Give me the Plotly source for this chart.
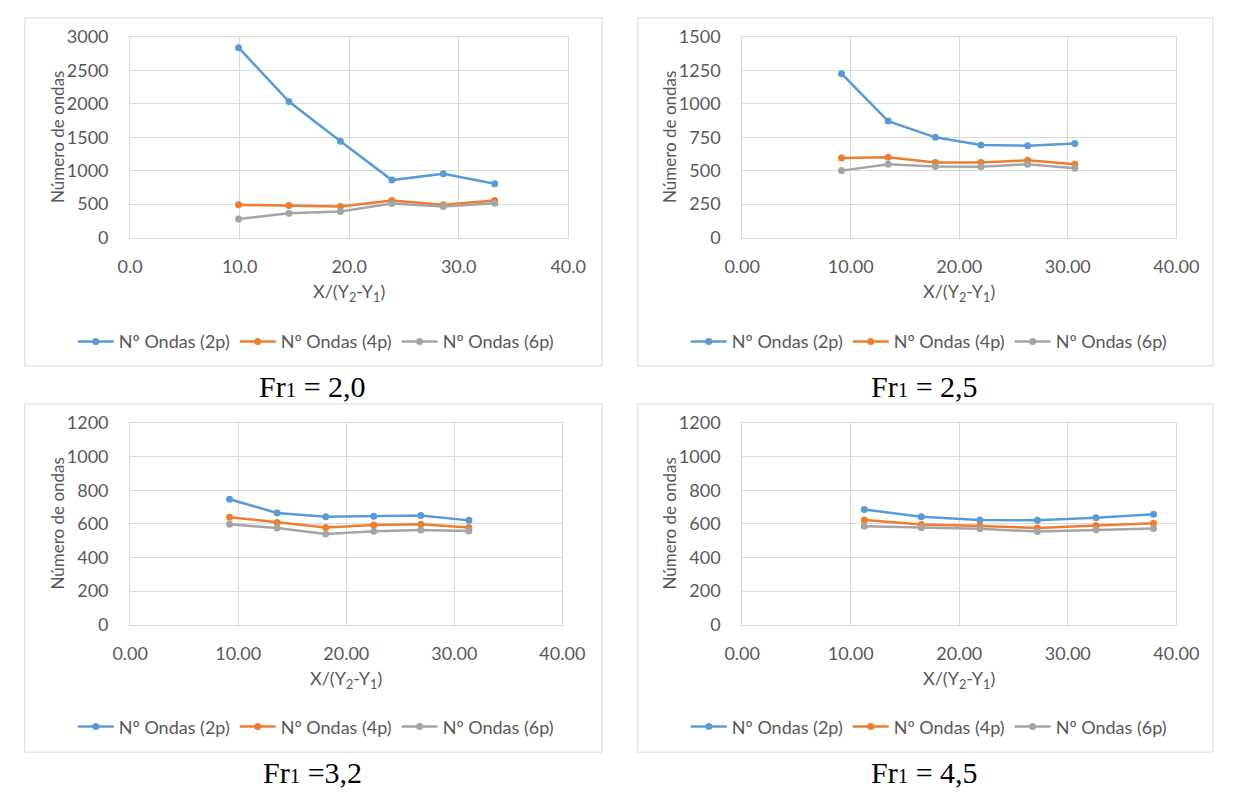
import plotly.graph_objects as go

W, H = 1238, 801

# Series labels and colours
series_names = ["Nº Ondas (2p)", "Nº Ondas (4p)", "Nº Ondas (6p)"]
series_colors = ["#5B9BD5", "#ED7D31", "#A5A5A5"]

# Fr1 = 2,0
x_fr20 = [9.9, 14.5, 19.2, 23.9, 28.6, 33.3]
ondas2p_fr20 = [2840, 2035, 1440, 860, 955, 805]
ondas4p_fr20 = [490, 480, 465, 555, 490, 555]
ondas6p_fr20 = [280, 365, 390, 510, 465, 515]

# Fr1 = 2,5
x_fr25 = [9.15, 13.45, 17.8, 22.0, 26.3, 30.65]
ondas2p_fr25 = [1226, 871, 750, 692, 687, 704]
ondas4p_fr25 = [595, 600, 561, 561, 578, 549]
ondas6p_fr25 = [501, 549, 532, 530, 549, 518]

# Fr1 = 3,2
x_fr32 = [9.2, 13.6, 18.1, 22.55, 26.9, 31.35]
ondas2p_fr32 = [747, 665, 642, 646, 650, 621]
ondas4p_fr32 = [640, 608, 579, 594, 598, 579]
ondas6p_fr32 = [598, 575, 540, 556, 563, 558]

# Fr1 = 4,5
x_fr45 = [11.25, 16.5, 21.9, 27.2, 32.6, 37.9]
ondas2p_fr45 = [685, 642, 623, 621, 637, 658]
ondas4p_fr45 = [623, 596, 588, 575, 590, 604]
ondas6p_fr45 = [586, 577, 571, 554, 565, 573]

captions = ["Fr<span style='font-size:21px'>1</span> = 2,0",
            "Fr<span style='font-size:21px'>1</span> = 2,5",
            "Fr<span style='font-size:21px'>1</span> =3,2",
            "Fr<span style='font-size:21px'>1</span> = 4,5"]

y_max = [3000, 1500, 1200, 1200]
y_step = [500, 250, 200, 200]
x_fmt = [".1f", ".2f", ".2f", ".2f"]

panels = [
    (x_fr20, [ondas2p_fr20, ondas4p_fr20, ondas6p_fr20]),
    (x_fr25, [ondas2p_fr25, ondas4p_fr25, ondas6p_fr25]),
    (x_fr32, [ondas2p_fr32, ondas4p_fr32, ondas6p_fr32]),
    (x_fr45, [ondas2p_fr45, ondas4p_fr45, ondas6p_fr45]),
]

# Pixel layout of each panel: plot area (left, right, top, bottom), chart box, legend centre, caption centre
plot_px = [(116, 569, 25.7, 232), (749, 1198, 25.7, 232),
           (116, 563, 422.7, 630), (749, 1198, 422.7, 630)]
box_px = [(7, 604, 6, 364), (641, 1236, 6, 364),
          (7, 604, 403, 761), (641, 1236, 403, 761)]
legend_px = [(308, 339), (942, 339), (308, 735), (942, 735)]
caption_px = [(305, 385), (938, 385), (305, 782), (938, 782)]

FONT = "Lato"
TXT = "#595959"
GRID = "#D9D9D9"
TICK_SIZE = 18


def fx(px):
    return px / W


def fy(py):
    return 1 - py / H


fig = go.Figure()
layout = dict(
    width=W, height=H,
    margin=dict(l=0, r=0, t=0, b=0),
    paper_bgcolor="white", plot_bgcolor="white",
    font=dict(family=FONT, color=TXT, size=TICK_SIZE),
    shapes=[], annotations=[],
)

for i, (xs, ys_list) in enumerate(panels):
    n = i + 1
    xa = "xaxis" if n == 1 else f"xaxis{n}"
    ya = "yaxis" if n == 1 else f"yaxis{n}"
    xr = "x" if n == 1 else f"x{n}"
    yr = "y" if n == 1 else f"y{n}"
    lg = "legend" if n == 1 else f"legend{n}"
    l, r, t, b = plot_px[i]

    for name, color, ys in zip(series_names, series_colors, ys_list):
        fig.add_trace(go.Scatter(
            x=xs, y=ys, name=name, mode="lines+markers",
            line=dict(color=color, width=2.5),
            marker=dict(color=color, size=7),
            xaxis=xr, yaxis=yr, legend=lg,
        ))

    layout[xa] = dict(
        domain=[fx(l), fx(r)], anchor=yr, range=[0, 40], dtick=10, tick0=0,
        tickformat=x_fmt[i], showgrid=True, gridcolor=GRID, gridwidth=1,
        showline=True, linecolor=GRID, linewidth=1, mirror=True,
        zeroline=False, ticks="outside", ticklen=13, tickcolor="rgba(0,0,0,0)",
        tickfont=dict(family=FONT, size=TICK_SIZE, color=TXT), fixedrange=True,
    )
    layout[ya] = dict(
        domain=[fy(b), fy(t)], anchor=xr, range=[0, y_max[i]], dtick=y_step[i], tick0=0,
        showgrid=True, gridcolor=GRID, gridwidth=1,
        showline=True, linecolor=GRID, linewidth=1, mirror=True,
        zeroline=False, ticks="outside", ticklen=17, tickcolor="rgba(0,0,0,0)",
        tickfont=dict(family=FONT, size=TICK_SIZE, color=TXT), fixedrange=True,
    )

    lx, ly = legend_px[i]
    layout[lg] = dict(
        orientation="h", x=fx(lx), y=fy(ly), xanchor="center", yanchor="middle",
        xref="paper", yref="paper", bgcolor="rgba(0,0,0,0)",
        font=dict(family=FONT, size=TICK_SIZE, color=TXT), itemwidth=36,
        tracegroupgap=0,
    )

    bl, br, bt, bb = box_px[i]
    layout["shapes"].append(dict(
        type="rect", xref="paper", yref="paper", x0=fx(bl), x1=fx(br), y0=fy(bb), y1=fy(bt),
        line=dict(color=GRID, width=1), fillcolor="rgba(0,0,0,0)", layer="below",
    ))

    # axis titles
    layout["annotations"].append(dict(
        text="X/(Y<sub>2</sub>-Y<sub>1</sub>)", xref="paper", yref="paper",
        x=fx((l + r) / 2), y=fy(b + 56), xanchor="center", yanchor="middle",
        showarrow=False, font=dict(family=FONT, size=TICK_SIZE, color=TXT),
    ))
    layout["annotations"].append(dict(
        text="Número de ondas", xref="paper", yref="paper",
        x=fx(l - 75), y=fy((t + b) / 2), xanchor="center", yanchor="middle",
        textangle=-90, showarrow=False, font=dict(family=FONT, size=17, color=TXT),
    ))

    cx, cy = caption_px[i]
    layout["annotations"].append(dict(
        text=captions[i], xref="paper", yref="paper",
        x=fx(cx), y=fy(cy), xanchor="center", yanchor="middle",
        showarrow=False, font=dict(family="Liberation Serif", size=30, color="black"),
    ))

fig.update_layout(**layout)
fig.write_html("out.html")
